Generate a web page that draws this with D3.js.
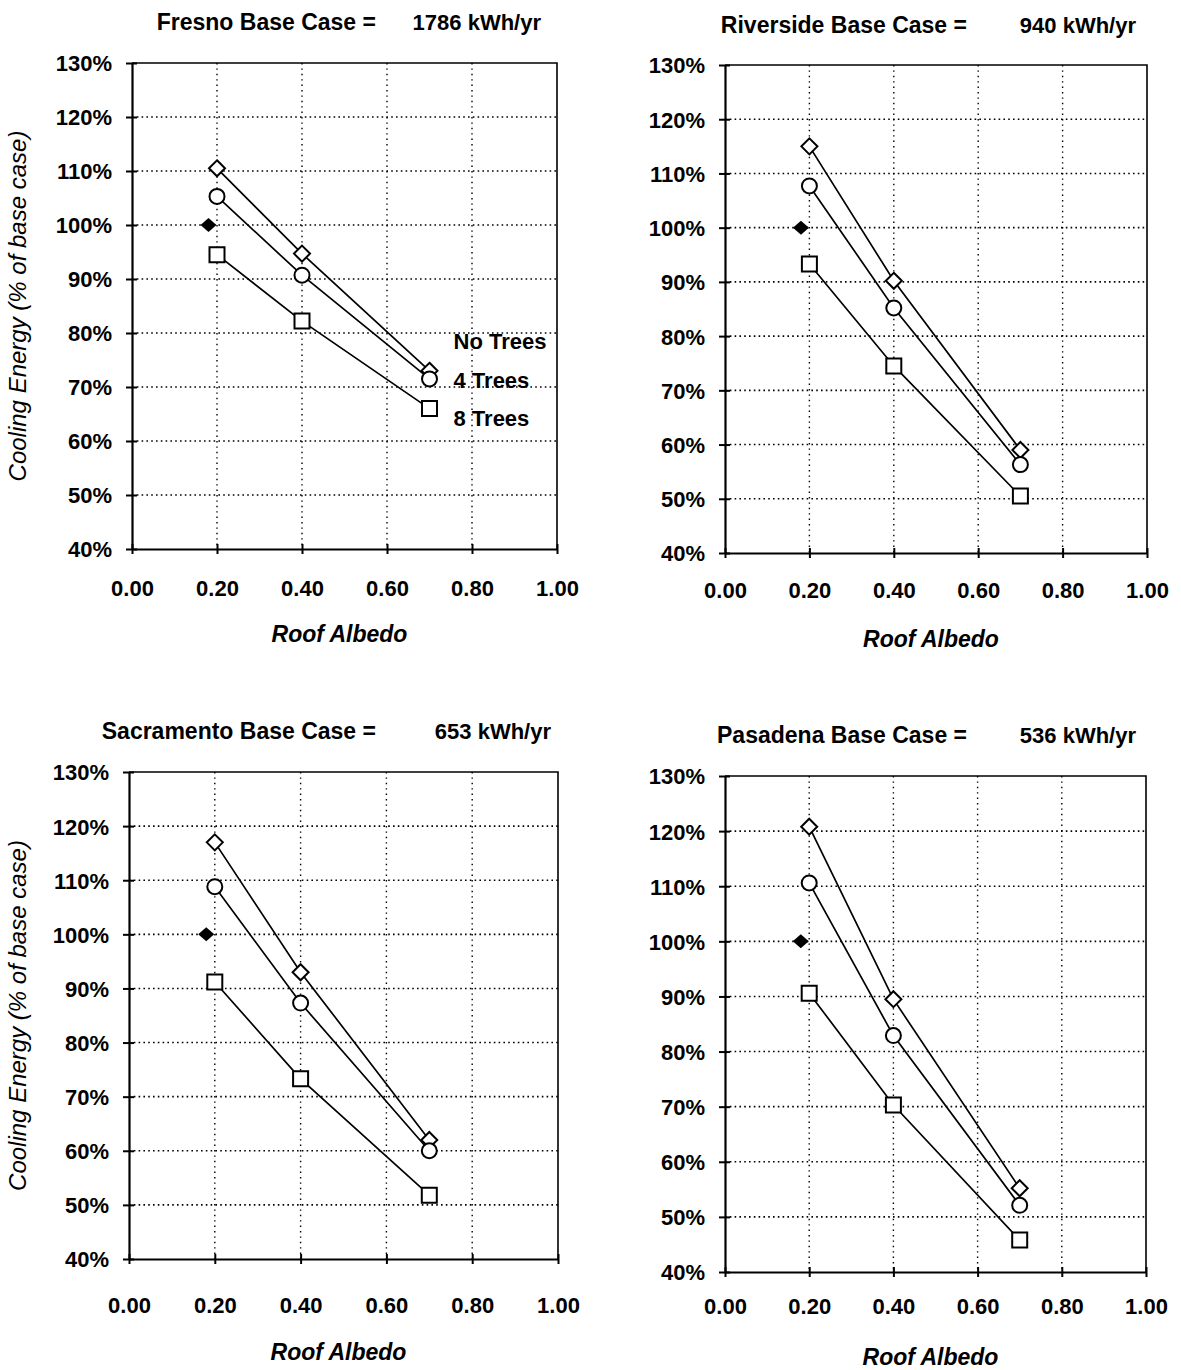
<!DOCTYPE html>
<html>
<head>
<meta charset="utf-8">
<script src="https://cdn.jsdelivr.net/npm/d3@7"></script>
<style>
  html, body { margin: 0; padding: 0; background: #fff; }
  svg { display: block; }
  text { font-family: "Liberation Sans", Arial, Helvetica, sans-serif; fill: #000; }
</style>
</head>
<body>
<svg id="chart" width="1181" height="1370"></svg>
<script>
// ---------------- DATA ----------------
const cities = ["Fresno", "Riverside", "Sacramento", "Pasadena"];
const baseCaseKWh = [1786, 940, 653, 536];
const albedo = [0.2, 0.4, 0.7];
const baseAlbedo = 0.18;
const baseValue = 100;
const seriesNames = ["No Trees", "4 Trees", "8 Trees"];
const noTrees    = [[110.5, 94.7, 73.0], [115.0, 90.2, 59.0], [117.0, 93.0, 62.0], [120.8, 89.5, 55.2]];
const fourTrees  = [[105.3, 90.7, 71.5], [107.7, 85.2, 56.3], [108.8, 87.3, 60.0], [110.6, 82.9, 52.1]];
const eightTrees = [[94.5, 82.2, 66.0], [93.3, 74.5, 50.5], [91.2, 73.3, 51.8], [90.6, 70.3, 45.8]];
const yTicks = [40, 50, 60, 70, 80, 90, 100, 110, 120, 130];
const xTicks = [0, 0.2, 0.4, 0.6, 0.8, 1.0];
const xTitle = "Roof Albedo";
const yTitle = "Cooling Energy (% of base case)";

// ---------------- LAYOUT ----------------
const layout = [
  { x0: 132, x1: 557, y0: 63,  y1: 549,  titleY: 30,  xlab: 48, xtitle: 93, yTitle: true,  legend: true },
  { x0: 725, x1: 1147, y0: 65, y1: 553,  titleY: 33,  xlab: 46, xtitle: 94, yTitle: false, legend: false },
  { x0: 129, x1: 558, y0: 772, y1: 1259, titleY: 739, xlab: 55, xtitle: 101, yTitle: true, legend: false },
  { x0: 725, x1: 1146, y0: 776, y1: 1272, titleY: 743, xlab: 43, xtitle: 93, yTitle: false, legend: false }
];
const titleEnds = [[376, 541], [967, 1136], [376, 551], [967, 1136]];
const FS = 22;      // tick labels
const FT = 23;      // titles

const svg = d3.select("#chart");

const markerPaths = [
  "M0,-8L8,0L0,8L-8,0Z",       // diamond
  null,                        // circle
  "M-7.5,-7.5H7.5V7.5H-7.5Z"   // square
];

cities.forEach((city, i) => {
  const L = layout[i];
  const x = d3.scaleLinear().domain([0, 1]).range([L.x0, L.x1]);
  const y = d3.scaleLinear().domain([40, 130]).range([L.y1, L.y0]);
  const g = svg.append("g");

  // gridlines (dotted)
  g.append("g").selectAll("line.h").data(yTicks.filter(d => d > 40 && d < 130)).join("line")
    .attr("x1", L.x0).attr("x2", L.x1).attr("y1", d => y(d)).attr("y2", d => y(d))
    .attr("stroke", "#000").attr("stroke-width", 1.6).attr("stroke-dasharray", "1.6,3.2");
  g.append("g").selectAll("line.v").data(xTicks.filter(d => d > 0 && d < 1)).join("line")
    .attr("x1", d => x(d)).attr("x2", d => x(d)).attr("y1", L.y0).attr("y2", L.y1)
    .attr("stroke", "#000").attr("stroke-width", 1.4).attr("stroke-dasharray", "1.4,4");

  // frame top/right
  g.append("path")
    .attr("d", `M${L.x0},${L.y0}H${L.x1}V${L.y1}`)
    .attr("fill", "none").attr("stroke", "#000").attr("stroke-width", 1.6);

  // y axis
  const ya = g.append("g").attr("transform", `translate(${L.x0},0)`)
    .call(d3.axisLeft(y).tickValues(yTicks).tickFormat(d => d + "%").tickSizeOuter(0).tickSizeInner(5).tickPadding(15));
  ya.select(".domain").attr("stroke-width", 2.2);
  ya.selectAll(".tick line").attr("x1", 5).attr("x2", -6).attr("stroke-width", 2);
  ya.selectAll(".tick text").attr("font-size", FS).attr("font-weight", "bold")
    .attr("font-family", "Liberation Sans, Arial, sans-serif").attr("dy", "0.36em");

  // x axis
  const xa = g.append("g").attr("transform", `translate(0,${L.y1})`)
    .call(d3.axisBottom(x).tickValues(xTicks).tickFormat(d3.format(".2f")).tickSizeOuter(0).tickSizeInner(5).tickPadding(L.xlab - 22));
  xa.select(".domain").attr("stroke-width", 2.2);
  xa.selectAll(".tick line").attr("y1", -5).attr("y2", 5).attr("stroke-width", 2);
  xa.selectAll(".tick text").attr("font-size", FS).attr("font-weight", "bold")
    .attr("font-family", "Liberation Sans, Arial, sans-serif");

  // title
  g.append("text").attr("x", titleEnds[i][0]).attr("y", L.titleY).attr("text-anchor", "end")
    .attr("font-size", FT).attr("font-weight", "bold").text(`${city} Base Case =`);
  g.append("text").attr("x", titleEnds[i][1]).attr("y", L.titleY).attr("text-anchor", "end")
    .attr("font-size", FT - 1).attr("font-weight", "bold").text(`${baseCaseKWh[i]} kWh/yr`);

  // x title
  g.append("text").attr("x", (L.x0 + L.x1) / 2 - 5).attr("y", L.y1 + L.xtitle)
    .attr("text-anchor", "middle").attr("font-size", FT).attr("font-style", "italic")
    .attr("font-weight", "bold").text(xTitle);

  // y title
  if (L.yTitle) {
    g.append("text")
      .attr("transform", `translate(26,${(L.y0 + L.y1) / 2 + 0}) rotate(-90)`)
      .attr("text-anchor", "middle").attr("font-size", 24).attr("font-style", "italic")
      .text(yTitle);
  }

  // series
  const allSeries = [noTrees[i], fourTrees[i], eightTrees[i]];
  const line = d3.line().x((d, k) => x(albedo[k])).y(d => y(d));
  allSeries.forEach(vals => {
    g.append("path").datum(vals).attr("d", line)
      .attr("fill", "none").attr("stroke", "#000").attr("stroke-width", 1.7);
  });
  allSeries.forEach((vals, s) => {
    const pts = g.append("g").selectAll("g").data(vals).join("g")
      .attr("transform", (d, k) => `translate(${x(albedo[k])},${y(d)})`);
    if (markerPaths[s]) {
      pts.append("path").attr("d", markerPaths[s]).attr("fill", "#fff")
        .attr("stroke", "#000").attr("stroke-width", 2);
    } else {
      pts.append("circle").attr("r", 7.5).attr("fill", "#fff")
        .attr("stroke", "#000").attr("stroke-width", 2);
    }
  });

  // base case point
  g.append("path").attr("d", "M0,-7L8,0L0,7L-8,0Z")
    .attr("transform", `translate(${x(baseAlbedo)},${y(baseValue)})`)
    .attr("fill", "#000");

  // legend (direct labels)
  if (L.legend) {
    const lx = x(albedo[2]) + 24;
    const ly = [y(noTrees[i][2]) - 22, y(fourTrees[i][2]) + 9, y(eightTrees[i][2]) + 17];
    seriesNames.forEach((name, s) => {
      g.append("text").attr("x", lx).attr("y", ly[s]).attr("font-size", FS)
        .attr("font-weight", "bold").text(name);
    });
  }
});
</script>
</body>
</html>
